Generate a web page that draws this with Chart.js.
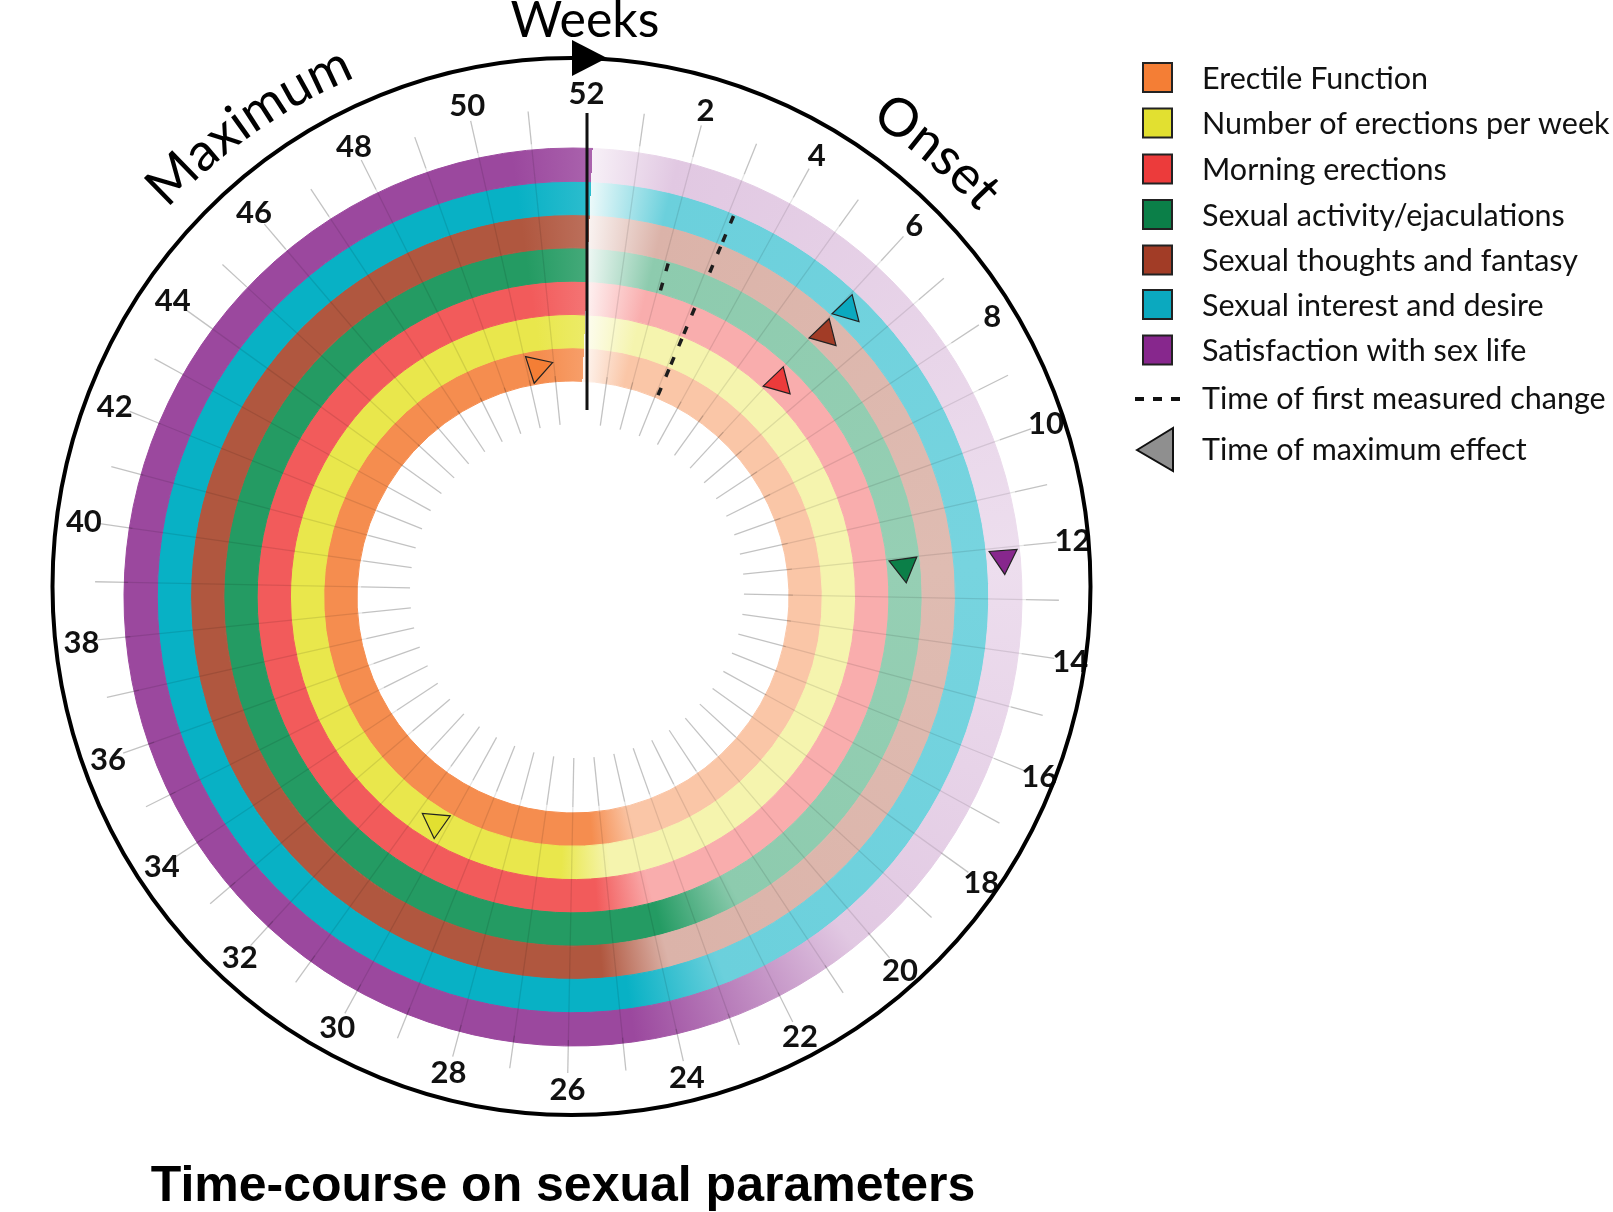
<!DOCTYPE html>
<html>
<head>
<meta charset="utf-8">
<title>Time-course on sexual parameters</title>
<script src="https://cdn.jsdelivr.net/npm/chart.js@4.4.1/dist/chart.umd.min.js"></script>
<style>
  html, body { margin: 0; padding: 0; background: #fff; }
  #wrap { position: relative; width: 1613px; height: 1212px; }
</style>
</head>
<body>
<div id="wrap"><canvas id="chart"></canvas></div>
<script>
// parameters, inner ring first (same order as the legend)
const categories = [
    'Erectile Function',
    'Number of erections per week',
    'Morning erections',
    'Sexual activity/ejaculations',
    'Sexual thoughts and fantasy',
    'Sexual interest and desire',
    'Satisfaction with sex life'
];
const firstChangeWeek = [3.3, 3.3, 3.3, 2.3, 3.3, 3.3, null];
const maxEffectWeek = [50.8, 30.5, 6.3, 12.3, 6.3, 6.3, 12.3];
const totalWeeks = 52;
const weekTicks = [2, 4, 6, 8, 10, 12, 14, 16, 18, 20, 22, 24, 26,
                   28, 30, 32, 34, 36, 38, 40, 42, 44, 46, 48, 50, 52];

// look of the rings
const ringColors = ['#f58d4f', '#e9e74c', '#f25b5b', '#249b63', '#b0573f', '#08b1c5', '#9b489e'];
const markerColors = ['#f47e35', '#e2e030', '#ec3b3b', '#0b7f48', '#a23c26', '#0ba9bf', '#87278d'];
const lightMix = [0.5, 0.45, 0.5, 0.52, 0.45, 0.6, 0.3];
const farMix = [0.5, 0.45, 0.5, 0.48, 0.4, 0.55, 0.18];
const fadeWeeks = [[23.5, 25], [24.5, 26], [23.5, 25], [21.5, 23.5], [23.5, 25], [22.5, 24.5], [20, 24.5]];
const markerRotation = [72, 185, 16, 172, 16, 16, 176];

function tint(hex, f) {
    const n = parseInt(hex.slice(1), 16);
    const c = [n >> 16, (n >> 8) & 255, n & 255].map(v => Math.round(255 - (255 - v) * f));
    return 'rgb(' + c.join(',') + ')';
}

const gradCache = {};
function ringGradient(ctx, i) {
    const chart = ctx.chart;
    const a = chart.chartArea;
    if (!a) return ringColors[i];
    const key = i + ':' + a.left + ':' + a.top + ':' + a.right + ':' + a.bottom;
    if (gradCache[key]) return gradCache[key];
    const x = (a.left + a.right) / 2, y = (a.top + a.bottom) / 2;
    const g = chart.ctx.createConicGradient(-Math.PI / 2 + 2.5 * Math.PI / 180, x, y);
    const c = ringColors[i];
    g.addColorStop(0, tint(c, 0.08));
    g.addColorStop(1.6 / totalWeeks, tint(c, lightMix[i]));
    g.addColorStop(12 / totalWeeks, tint(c, farMix[i]));
    g.addColorStop(fadeWeeks[i][0] / totalWeeks, tint(c, lightMix[i]));
    g.addColorStop(fadeWeeks[i][1] / totalWeeks, c);
    g.addColorStop(50.5 / totalWeeks, c);
    g.addColorStop(1, tint(c, 0.85));
    gradCache[key] = g;
    return g;
}

// doughnut draws the outer ring first, so feed the rings reversed
const datasets = [];
for (let i = categories.length - 1; i >= 0; i--) {
    const first = firstChangeWeek[i] || 0;
    datasets.push({
        label: categories[i],
        data: [first, maxEffectWeek[i] - first, totalWeeks - maxEffectWeek[i]],
        backgroundColor: ctx => ringGradient(ctx, i),
        borderColor: ctx => ringGradient(ctx, i),
        borderWidth: 1
    });
}

function arcText(ctx, text, cx, cy, r, centerDeg) {
    const total = ctx.measureText(text).width;
    let a = centerDeg * Math.PI / 180 - total / 2 / r;
    for (const ch of text) {
        const w = ctx.measureText(ch).width;
        const mid = a + w / 2 / r;
        ctx.save();
        ctx.translate(cx + r * Math.sin(mid), cy - r * Math.cos(mid));
        ctx.rotate(mid);
        ctx.fillText(ch, 0, 0);
        ctx.restore();
        a += w / r;
    }
}

function spoke(ctx, x, y, ang, r0, r1) {
    ctx.beginPath();
    ctx.moveTo(x + r0 * Math.sin(ang), y - r0 * Math.cos(ang));
    ctx.lineTo(x + r1 * Math.sin(ang), y - r1 * Math.cos(ang));
    ctx.stroke();
}

const decor = {
    id: 'decor',
    afterDatasetsDraw(chart) {
        const ctx = chart.ctx;
        const n = categories.length;
        const outer = chart.getDatasetMeta(0).data[0];
        const inner = chart.getDatasetMeta(n - 1).data[0];
        const cx = outer.x, cy = outer.y;
        const rIn = inner.innerRadius, rOut = outer.outerRadius;

        // week spokes, faint where they cross the rings
        const tx = cx + 4, ty = cy - 6, rot = 1.1 * Math.PI / 180;
        ctx.save();
        ctx.lineWidth = 1.3;
        for (let w = 1; w < totalWeeks; w++) {
            const ang = w / totalWeeks * 2 * Math.PI + rot;
            ctx.strokeStyle = 'rgba(0,0,0,0.24)';
            spoke(ctx, tx, ty, ang, 167, rIn);
            spoke(ctx, tx, ty, ang, rOut, 482);
            ctx.strokeStyle = 'rgba(0,0,0,0.1)';
            spoke(ctx, tx, ty, ang, rIn, rOut);
        }
        ctx.restore();

        // week numbers
        ctx.save();
        ctx.fillStyle = '#111';
        ctx.font = 'bold 31px Lato';
        ctx.textAlign = 'center';
        ctx.textBaseline = 'middle';
        weekTicks.forEach(w => {
            const ang = (w % totalWeeks) / totalWeeks * 2 * Math.PI + rot;
            ctx.fillText(String(w), tx + 498 * Math.sin(ang), ty - 498 * Math.cos(ang) + 1);
        });
        ctx.restore();

        // start line
        ctx.save();
        ctx.strokeStyle = '#111';
        ctx.lineWidth = 3;
        ctx.beginPath();
        ctx.moveTo(cx + 14, cy - 484);
        ctx.lineTo(cx + 14, cy - 187);
        ctx.stroke();
        ctx.restore();

        for (let i = 0; i < n; i++) {
            const meta = chart.getDatasetMeta(n - 1 - i);
            // first measured change
            if (firstChangeWeek[i] !== null) {
                const arc = meta.data[1];
                const ang = arc.startAngle;
                ctx.save();
                ctx.strokeStyle = '#1d1d1d';
                ctx.lineWidth = 3.5;
                ctx.setLineDash([8, 12]);
                ctx.beginPath();
                ctx.moveTo(arc.x + (arc.innerRadius + 3) * Math.cos(ang), arc.y + (arc.innerRadius + 3) * Math.sin(ang));
                ctx.lineTo(arc.x + arc.outerRadius * Math.cos(ang), arc.y + arc.outerRadius * Math.sin(ang));
                ctx.stroke();
                ctx.restore();
            }
            // maximum effect
            const arc = meta.data[2];
            const r = (arc.innerRadius + arc.outerRadius) / 2;
            const ang = arc.startAngle;
            ctx.save();
            ctx.translate(arc.x + r * Math.cos(ang), arc.y + r * Math.sin(ang));
            ctx.rotate(markerRotation[i] * Math.PI / 180);
            ctx.beginPath();
            ctx.moveTo(0, -14);
            ctx.lineTo(-14, 10);
            ctx.lineTo(14, 10);
            ctx.closePath();
            ctx.fillStyle = markerColors[i];
            ctx.fill();
            ctx.strokeStyle = '#222';
            ctx.lineWidth = 1.2;
            ctx.stroke();
            ctx.restore();
        }

        // outer frame with arrow
        ctx.save();
        ctx.strokeStyle = '#000';
        ctx.lineWidth = 4;
        ctx.beginPath();
        ctx.ellipse(cx - 1.5, cy - 10.5, 519, 528.5, 0, 0, 2 * Math.PI);
        ctx.stroke();
        ctx.fillStyle = '#000';
        ctx.beginPath();
        ctx.moveTo(cx - 1, cy - 557);
        ctx.lineTo(cx + 34, cy - 539);
        ctx.lineTo(cx - 1, cy - 521);
        ctx.closePath();
        ctx.fill();

        ctx.font = '50px Lato';
        ctx.textAlign = 'center';
        ctx.textBaseline = 'alphabetic';
        ctx.fillText('Weeks', cx + 12, 37);
        ctx.font = '53px Lato';
        arcText(ctx, 'Maximum', cx - 1.5, cy - 10.5, 553, -35);
        arcText(ctx, 'Onset', cx - 1.5, cy - 10.5, 553, 40);
        ctx.restore();

        // legend
        ctx.save();
        const rowY = [77.5, 123, 169, 214.5, 260, 304.5, 350];
        ctx.font = '30.5px Lato';
        ctx.textAlign = 'left';
        ctx.textBaseline = 'alphabetic';
        categories.forEach((name, i) => {
            ctx.fillStyle = markerColors[i];
            ctx.fillRect(1143, rowY[i] - 14.5, 29, 29);
            ctx.strokeStyle = '#222';
            ctx.lineWidth = 2;
            ctx.strokeRect(1143, rowY[i] - 14.5, 29, 29);
            ctx.fillStyle = '#111';
            ctx.fillText(name, 1202, rowY[i] + 11);
        });
        ctx.strokeStyle = '#111';
        ctx.lineWidth = 4;
        ctx.setLineDash([9, 9]);
        ctx.beginPath();
        ctx.moveTo(1135, 399);
        ctx.lineTo(1188, 399);
        ctx.stroke();
        ctx.setLineDash([]);
        ctx.fillStyle = '#111';
        ctx.fillText('Time of first measured change', 1202, 409);
        ctx.beginPath();
        ctx.moveTo(1137, 450);
        ctx.lineTo(1173, 428);
        ctx.lineTo(1173, 471);
        ctx.closePath();
        ctx.fillStyle = '#8f8f8f';
        ctx.fill();
        ctx.strokeStyle = '#111';
        ctx.lineWidth = 2;
        ctx.stroke();
        ctx.fillStyle = '#111';
        ctx.fillText('Time of maximum effect', 1202, 460);
        ctx.restore();

        // title
        ctx.save();
        ctx.fillStyle = '#000';
        ctx.font = 'bold 50px "Liberation Sans"';
        ctx.textAlign = 'center';
        ctx.fillText('Time-course on sexual parameters', 563, 1201);
        ctx.restore();
    }
};

new Chart(document.getElementById('chart'), {
    type: 'doughnut',
    data: {
        labels: ['Before first change', 'Until maximum', 'After maximum'],
        datasets: datasets
    },
    options: {
        responsive: true,
        maintainAspectRatio: false,
        animation: false,
        events: [],
        radius: 449,
        cutout: (216 / 449 * 100) + '%',
        layout: { padding: { left: 0, right: 467, top: 0, bottom: 18 } },
        plugins: {
            legend: { display: false },
            tooltip: { enabled: false }
        }
    },
    plugins: [decor]
});
</script>
</body>
</html>
